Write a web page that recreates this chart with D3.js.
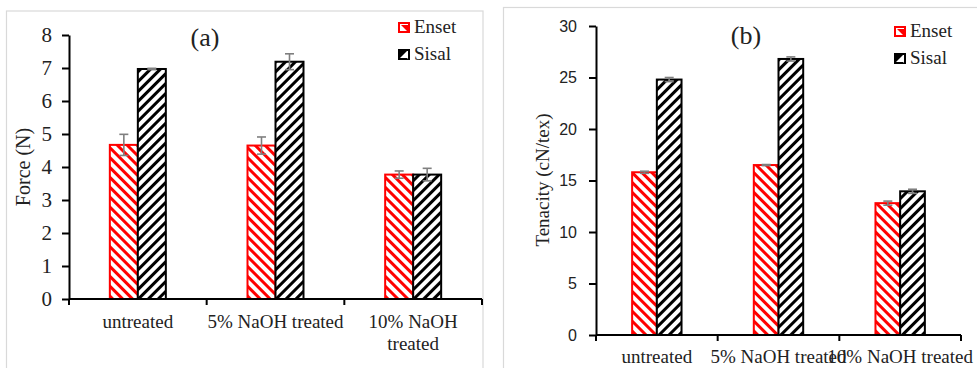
<!DOCTYPE html>
<html>
<head>
<meta charset="utf-8">
<script src="https://cdn.jsdelivr.net/npm/d3@7"></script>
<style>
  body { margin: 0; background: #fff; }
  svg { display: block; }
</style>
</head>
<body>
<div id="chart"></div>
<script>
// data
const categoriesA = ['untreated', '5% NaOH treated', '10% NaOH treated'];
const categoriesB = ['untreated', '5% NaOH treated', '10% NaOH treated'];
const seriesNames = ['Enset', 'Sisal'];

const forceEnset = [4.67, 4.65, 3.77];
const forceSisal = [6.97, 7.19, 3.77];
const forceEnsetErr = [0.32, 0.26, 0.11];
const forceSisalErr = [0.02, 0.24, 0.19];

const tenacityEnset = [15.8, 16.5, 12.8];
const tenacitySisal = [24.8, 26.8, 13.95];
const tenacityEnsetErr = [0.1, 0.05, 0.2];
const tenacitySisalErr = [0.2, 0.2, 0.2];

const forceTicks = [0, 1, 2, 3, 4, 5, 6, 7, 8];
const tenacityTicks = [0, 5, 10, 15, 20, 25, 30];

const serif = '"Liberation Serif", "Times New Roman", serif';
const sans = '"Liberation Sans", Arial, sans-serif';

const svg = d3.select('#chart')
  .append('svg')
  .attr('width', 977)
  .attr('height', 368);

// hatch patterns
const defs = svg.append('defs');
function hatch(id, color, angle) {
  const p = defs.append('pattern')
    .attr('id', id)
    .attr('patternUnits', 'userSpaceOnUse')
    .attr('width', 7)
    .attr('height', 7)
    .attr('patternTransform', `rotate(${angle})`);
  p.append('rect').attr('width', 7).attr('height', 7).attr('fill', '#fff');
  p.append('rect').attr('width', 3).attr('height', 7).attr('fill', color);
}
hatch('hatchEnset', '#ff0000', -45);
hatch('hatchSisal', '#000000', 45);

const fills = { Enset: 'url(#hatchEnset)', Sisal: 'url(#hatchSisal)' };
const strokes = { Enset: '#ff0000', Sisal: '#000000' };

function panel(cfg) {
  const g = svg.append('g');

  g.append('rect')
    .attr('x', cfg.box[0]).attr('y', cfg.box[1])
    .attr('width', cfg.box[2]).attr('height', cfg.box[3])
    .attr('fill', 'none')
    .attr('stroke', '#d9d9d9')
    .attr('stroke-width', 1.2);

  const y = d3.scaleLinear().domain(cfg.yDomain).range([cfg.bottom, cfg.top]);
  const x0 = d3.scaleBand().domain(cfg.categories).range([cfg.left, cfg.right]);
  const bw = x0.bandwidth();
  const x1 = d3.scaleBand().domain(seriesNames)
    .range([bw / 2 - cfg.barW, bw / 2 + cfg.barW]);

  const rows = cfg.categories.map((c, i) => ({
    cat: c,
    vals: [
      { s: 'Enset', v: cfg.enset[i], e: cfg.ensetErr[i] },
      { s: 'Sisal', v: cfg.sisal[i], e: cfg.sisalErr[i] }
    ]
  }));

  const groups = g.selectAll('.grp')
    .data(rows)
    .enter()
    .append('g')
    .attr('transform', (d) => `translate(${x0(d.cat)},0)`);

  groups.selectAll('rect')
    .data((d) => d.vals)
    .enter()
    .append('rect')
    .attr('x', (d) => x1(d.s))
    .attr('y', (d) => y(d.v))
    .attr('width', x1.bandwidth())
    .attr('height', (d) => y(0) - y(d.v))
    .attr('fill', (d) => fills[d.s])
    .attr('stroke', (d) => strokes[d.s])
    .attr('stroke-width', 2);

  // error bars
  const err = groups.selectAll('.err')
    .data((d) => d.vals)
    .enter()
    .append('g')
    .attr('stroke', '#7f7f7f')
    .attr('stroke-width', 1.6);
  const cx = (d) => x1(d.s) + x1.bandwidth() / 2;
  err.append('line')
    .attr('x1', cx).attr('x2', cx)
    .attr('y1', (d) => y(d.v + d.e)).attr('y2', (d) => y(d.v - d.e));
  err.append('line')
    .attr('x1', (d) => cx(d) - 4.5).attr('x2', (d) => cx(d) + 4.5)
    .attr('y1', (d) => y(d.v + d.e)).attr('y2', (d) => y(d.v + d.e));
  err.append('line')
    .attr('x1', (d) => cx(d) - 4.5).attr('x2', (d) => cx(d) + 4.5)
    .attr('y1', (d) => y(d.v - d.e)).attr('y2', (d) => y(d.v - d.e));

  // y axis
  const yAxis = g.append('g')
    .attr('transform', `translate(${cfg.left},0)`)
    .call(d3.axisLeft(y).tickValues(cfg.ticks).tickSize(7).tickSizeOuter(0).tickPadding(cfg.tickPad));
  yAxis.select('.domain').attr('stroke', '#000').attr('stroke-width', 2);
  yAxis.selectAll('.tick line').attr('stroke', '#000').attr('stroke-width', 2);
  yAxis.selectAll('.tick text')
    .attr('fill', cfg.tickColor)
    .style('font-family', cfg.tickFont)
    .style('font-size', cfg.tickSize + 'px');

  // x axis with ticks between categories
  const bounds = cfg.categories.map((c) => x0(c)).concat([cfg.right]);
  g.append('line')
    .attr('x1', cfg.left).attr('x2', cfg.right)
    .attr('y1', y(0)).attr('y2', y(0))
    .attr('stroke', '#000').attr('stroke-width', 2);
  g.selectAll('.xt')
    .data(bounds)
    .enter()
    .append('line')
    .attr('x1', (d) => d).attr('x2', (d) => d)
    .attr('y1', y(0)).attr('y2', y(0) + 6)
    .attr('stroke', '#000').attr('stroke-width', 2);

  const lab = g.selectAll('.xl')
    .data(cfg.categories)
    .enter()
    .append('text')
    .attr('x', (d) => x0(d) + bw / 2)
    .attr('y', y(0) + cfg.labelDy)
    .attr('text-anchor', 'middle')
    .attr('fill', '#222')
    .style('font-family', serif)
    .style('font-size', '19px');
  lab.each(function (d, i) {
    const lines = cfg.labelLines[i];
    const t = d3.select(this);
    lines.forEach((ln, j) => {
      t.append('tspan')
        .attr('x', x0(d) + bw / 2)
        .attr('dy', j === 0 ? 0 : 22)
        .text(ln);
    });
  });

  // y title
  g.append('text')
    .attr('transform', `translate(${cfg.yTitlePos[0]},${cfg.yTitlePos[1]}) rotate(-90)`)
    .attr('text-anchor', 'middle')
    .attr('fill', '#222')
    .style('font-family', serif)
    .style('font-size', cfg.yTitleSize + 'px')
    .text(cfg.yTitle);

  // panel tag
  g.append('text')
    .attr('x', cfg.tagPos[0]).attr('y', cfg.tagPos[1])
    .attr('text-anchor', 'middle')
    .attr('fill', '#222')
    .style('font-family', serif)
    .style('font-size', '26px')
    .text(cfg.tag);

  // legend
  const leg = g.selectAll('.leg')
    .data(seriesNames)
    .enter()
    .append('g')
    .attr('transform', (d, i) => `translate(${cfg.legPos[0]},${cfg.legPos[1] + i * 27})`);
  leg.append('rect')
    .attr('x', 0).attr('y', -10)
    .attr('width', 10).attr('height', 9)
    .attr('fill', '#fff')
    .attr('stroke', (d) => strokes[d])
    .attr('stroke-width', 2);
  leg.append('path')
    .attr('d', 'M2,-8 L9,-1 L9,-8 Z')
    .attr('fill', (d) => d === 'Enset' ? '#ff0000' : '#fff');
  leg.append('path')
    .attr('d', 'M1,-2 L8,-9 L1,-9 Z')
    .attr('fill', (d) => d === 'Sisal' ? '#000' : 'none');
  leg.append('text')
    .attr('x', 15).attr('y', 0)
    .attr('fill', '#222')
    .style('font-family', serif)
    .style('font-size', '19px')
    .text((d) => d);
}

panel({
  box: [6.5, 11, 476.5, 360],
  left: 69, right: 482, top: 35, bottom: 299,
  yDomain: [0, 8], ticks: forceTicks,
  categories: categoriesA,
  labelLines: [['untreated'], ['5% NaOH treated'], ['10% NaOH', 'treated']],
  labelDy: 29,
  barW: 28,
  enset: forceEnset, sisal: forceSisal,
  ensetErr: forceEnsetErr, sisalErr: forceSisalErr,
  tickFont: serif, tickSize: 21, tickPad: 10, tickColor: '#222',
  yTitle: 'Force (N)', yTitleSize: 20, yTitlePos: [30, 167],
  tag: '(a)', tagPos: [205, 46],
  legPos: [399, 33]
});

panel({
  box: [503.5, 7.5, 480, 370],
  left: 596, right: 961, top: 26, bottom: 335,
  yDomain: [0, 30], ticks: tenacityTicks,
  categories: categoriesB,
  labelLines: [['untreated'], ['5% NaOH treated'], ['10% NaOH treated']],
  labelDy: 28,
  barW: 24.7,
  enset: tenacityEnset, sisal: tenacitySisal,
  ensetErr: tenacityEnsetErr, sisalErr: tenacitySisalErr,
  tickFont: sans, tickSize: 16, tickPad: 12, tickColor: '#222',
  yTitle: 'Tenacity (cN/tex)', yTitleSize: 19, yTitlePos: [549, 180],
  tag: '(b)', tagPos: [746, 44],
  legPos: [895, 37]
});
</script>
</body>
</html>
